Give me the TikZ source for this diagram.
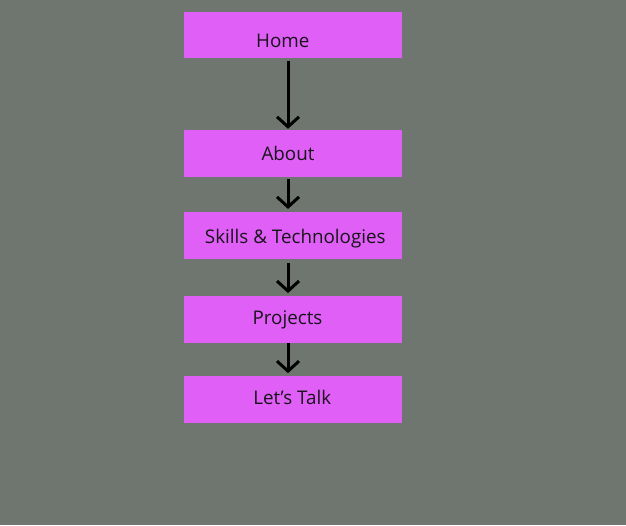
\documentclass[tikz,border=0pt]{standalone}
\usepackage{fontspec}
\setmainfont{Open Sans}
\usetikzlibrary{positioning,arrows.meta}
\definecolor{bggray}{RGB}{111,117,111}
\definecolor{pagepink}{RGB}{223,95,247}
\definecolor{inkdark}{RGB}{24,20,26}

\begin{document}
\begin{tikzpicture}[x=1pt,y=-1pt,
		pagebox/.style = {fill=pagepink, minimum width=218pt, minimum height=46.7pt,
			inner sep=0pt, text height=13.4pt, text depth=0pt, text=inkdark,
			font=\fontsize{18.8}{21}\selectfont},
		flow/.style = {-{Straight Barb[length=10pt,width=22pt]}, line width=3pt, black}]
		\fill [bggray] (0,0) rectangle (626,525);
		\useasboundingbox (0,0) rectangle (626,525);

		\node [pagebox] (home) at (293,35) {\raisebox{-5.5pt}{Home}\hspace*{20.4pt}};
		\node [pagebox, below = 71.3pt of home] (about) {About\hspace*{10pt}};
		\node [pagebox, below = 35pt of about] (skills) {\hspace*{4.6pt}\raisebox{-1.2pt}{Skills \& Technologies}};
		\node [pagebox, below = 37pt of skills] (projects) {\raisebox{2.3pt}{Projects}\hspace*{11pt}};
		\node [pagebox, below = 33pt of projects] (talk) {\raisebox{2pt}{Let’s Talk}\hspace*{1.4pt}};

		\draw [flow, shorten <=2pt, shorten >=1pt] ([xshift=-5pt]home.south) -- ([xshift=-5pt]about.north);
		\draw [flow, shorten <=2pt, shorten >=3pt] ([xshift=-5pt]about.south) -- ([xshift=-5pt]skills.north);
		\draw [flow, shorten <=4pt, shorten >=3pt] ([xshift=-5pt]skills.south) -- ([xshift=-5pt]projects.north);
		\draw [flow, shorten >=3pt] ([xshift=-5pt]projects.south) -- ([xshift=-5pt]talk.north);
\end{tikzpicture}
\end{document}
